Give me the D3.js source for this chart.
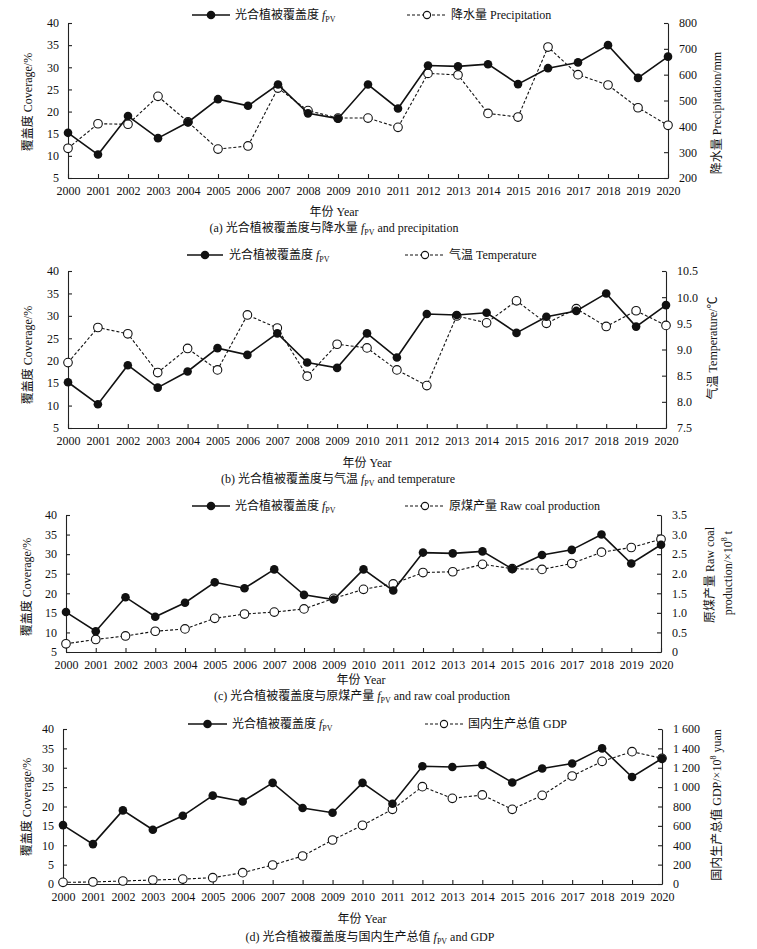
<!DOCTYPE html>
<html><head><meta charset="utf-8">
<script src="https://cdn.jsdelivr.net/npm/d3@7"></script>
<style>
body{margin:0;background:#fff}
text{font-family:"Liberation Serif","Times New Roman","Noto Sans CJK SC",serif;fill:#111}
</style>
</head><body>
<svg id="chart" width="757" height="949"></svg>
<script>
// ---------- data ----------
const years = [2000,2001,2002,2003,2004,2005,2006,2007,2008,2009,2010,2011,2012,2013,2014,2015,2016,2017,2018,2019,2020];
const fpv = [15.2,10.3,19.0,14.0,17.6,22.8,21.3,26.1,19.6,18.4,26.1,20.7,30.4,30.2,30.7,26.2,29.8,31.1,35.0,27.6,32.4];
const precipitation = [315,410,408,516,417,312,324,548,461,432,432,396,605,599,450,436,707,600,560,472,404];
const temperature = [8.75,9.42,9.30,8.56,9.02,8.61,9.66,9.41,8.49,9.10,9.03,8.61,8.31,9.64,9.51,9.93,9.50,9.78,9.44,9.74,9.46];
const coal = [0.21,0.32,0.41,0.53,0.59,0.86,0.97,1.02,1.10,1.37,1.60,1.74,2.03,2.05,2.24,2.13,2.11,2.26,2.55,2.67,2.88];
const gdp = [17,21,31,41,51,65,117,196,289,454,606,771,1005,884,919,771,915,1115,1266,1366,1297];

const coverTicks = [5,10,15,20,25,30,35,40];
const coverTicksD = [0,5,10,15,20,25,30,35,40];
const precipTicks = [200,300,400,500,600,700,800];
const tempTicks = [7.5,8.0,8.5,9.0,9.5,10.0,10.5];
const coalTicks = [0,0.5,1.0,1.5,2.0,2.5,3.0,3.5];
const gdpTicks = [0,200,400,600,800,1000,1200,1400,1600];

const fpvName = "光合植被覆盖度 ";
const panels = [
  {key:"a", sec:precipitation, leftDom:[5,40], leftTicks:coverTicks, rightDom:[200,800], rightTicks:precipTicks,
   fmt:d=>String(d), box:{l:68,r:668,t:23,b:178},
   leg1:{x1:192,x2:230,tx:235,y:15}, leg2:{x1:407,x2:447,tx:451,label:"降水量 Precipitation"},
   leftLabel:{x:28,y:102}, rightLabel:[{x:717,y:113,t:"降水量 Precipitation/mm"}],
   xTitle:{x:334,y:216}, caption:{x:334,y:232,pre:"(a) 光合植被覆盖度与降水量 ",post:" and precipitation"}},
  {key:"b", sec:temperature, leftDom:[5,40], leftTicks:coverTicks, rightDom:[7.5,10.5], rightTicks:tempTicks,
   fmt:d3.format(".1f"), box:{l:68,r:666,t:271,b:428},
   leg1:{x1:187,x2:223,tx:229,y:255}, leg2:{x1:405,x2:445,tx:449,label:"气温 Temperature"},
   leftLabel:{x:28,y:355}, rightLabel:[{x:713,y:348,t:"气温 Temperature/℃"}],
   xTitle:{x:367,y:467}, caption:{x:338,y:483,pre:"(b) 光合植被覆盖度与气温 ",post:" and temperature"}},
  {key:"c", sec:coal, leftDom:[5,40], leftTicks:coverTicks, rightDom:[0,3.5], rightTicks:coalTicks,
   fmt:d=>d===0?"0":d3.format(".1f")(d), box:{l:66,r:661,t:515,b:652},
   leg1:{x1:192,x2:230,tx:235,y:506}, leg2:{x1:405,x2:445,tx:449,label:"原煤产量  Raw coal production"},
   leftLabel:{x:27,y:587}, rightLabel:[{x:710,y:575,t:"原煤产量 Raw coal"},{x:728,y:573,t:"production/×10",sup:"8",tail:" t"}],
   xTitle:{x:361,y:684}, caption:{x:362,y:700,pre:"(c) 光合植被覆盖度与原煤产量 ",post:" and raw coal production"}},
  {key:"d", sec:gdp, leftDom:[0,40], leftTicks:coverTicksD, rightDom:[0,1600], rightTicks:gdpTicks,
   fmt:d=>d3.format(",")(d).replace(/,/g," "), box:{l:63,r:662,t:729,b:884},
   leg1:{x1:188,x2:227,tx:232,y:724}, leg2:{x1:425,x2:463,tx:468,label:"国内生产总值 GDP"},
   leftLabel:{x:27,y:807}, rightLabel:[{x:717,y:805,t:"国内生产总值 GDP/×10",sup:"8",tail:" yuan"}],
   xTitle:{x:362,y:923}, caption:{x:370,y:941,pre:"(d) 光合植被覆盖度与国内生产总值 ",post:" and GDP"}}
];

const svg = d3.select("#chart");
const FS = 12;
const R = 4.3;

function addFpv(textSel){
  textSel.append("tspan").attr("font-style","italic").text("f");
  textSel.append("tspan").attr("font-size",8).attr("dy",3).text("PV");
}

panels.forEach(p=>{
  const g = svg.append("g");
  const {l,r,t,b} = p.box;
  const x = d3.scalePoint().domain(years).range([l,r]);
  const yL = d3.scaleLinear().domain(p.leftDom).range([b,t]);
  const yR = d3.scaleLinear().domain(p.rightDom).range([b,t]);

  // axes
  const ax = g.append("g").attr("transform",`translate(0,${b})`)
    .call(d3.axisBottom(x).tickSize(-4).tickSizeOuter(0).tickPadding(8));
  const al = g.append("g").attr("transform",`translate(${l},0)`)
    .call(d3.axisLeft(yL).tickValues(p.leftTicks).tickSize(-4).tickSizeOuter(0).tickPadding(9).tickFormat(d=>String(d)));
  const ar = g.append("g").attr("transform",`translate(${r},0)`)
    .call(d3.axisRight(yR).tickValues(p.rightTicks).tickSize(-4).tickSizeOuter(0).tickPadding(11).tickFormat(p.fmt));
  [ax,al,ar].forEach(a=>{
    a.selectAll("text").attr("font-size",FS).attr("font-family",'"Liberation Serif",serif').style("fill","#111");
    a.selectAll("line,path").attr("stroke","#222").attr("stroke-width",1.1);
  });
  ax.selectAll("text").attr("dy","0.71em");

  // secondary series (dashed, open)
  const lineSec = d3.line().x((d,i)=>x(years[i])).y(d=>yR(d));
  g.append("path").datum(p.sec).attr("d",lineSec).attr("fill","none")
    .attr("stroke","#111").attr("stroke-width",1.1).attr("stroke-dasharray","3,2");
  g.selectAll(".sec").data(p.sec).join("circle").attr("class","sec")
    .attr("cx",(d,i)=>x(years[i])).attr("cy",d=>yR(d)).attr("r",R)
    .attr("fill","#fff").attr("stroke","#111").attr("stroke-width",1.1);

  // fPV series (solid, filled)
  const lineF = d3.line().x((d,i)=>x(years[i])).y(d=>yL(d));
  g.append("path").datum(fpv).attr("d",lineF).attr("fill","none")
    .attr("stroke","#111").attr("stroke-width",1.6);
  g.selectAll(".fp").data(fpv).join("circle").attr("class","fp")
    .attr("cx",(d,i)=>x(years[i])).attr("cy",d=>yL(d)).attr("r",R).attr("fill","#111");

  // legend
  const L1 = p.leg1, L2 = p.leg2, ly = L1.y;
  g.append("line").attr("x1",L1.x1).attr("x2",L1.x2).attr("y1",ly).attr("y2",ly).attr("stroke","#111").attr("stroke-width",1.6);
  g.append("circle").attr("cx",(L1.x1+L1.x2)/2).attr("cy",ly).attr("r",R).attr("fill","#111");
  const t1 = g.append("text").attr("x",L1.tx).attr("y",ly+4).attr("font-size",FS).text(fpvName);
  addFpv(t1);
  g.append("line").attr("x1",L2.x1).attr("x2",L2.x2).attr("y1",ly).attr("y2",ly).attr("stroke","#111").attr("stroke-width",1.1).attr("stroke-dasharray","3,2");
  g.append("circle").attr("cx",(L2.x1+L2.x2)/2).attr("cy",ly).attr("r",3.6).attr("fill","#fff").attr("stroke","#111").attr("stroke-width",1.1);
  g.append("text").attr("x",L2.tx).attr("y",ly+4).attr("font-size",FS).text(L2.label);

  // axis titles
  g.append("text").attr("transform",`translate(${p.leftLabel.x},${p.leftLabel.y}) rotate(-90)`)
    .attr("text-anchor","middle").attr("dy","0.35em").attr("font-size",FS).text("覆盖度 Coverage/%");
  p.rightLabel.forEach(rl=>{
    const tt = g.append("text").attr("transform",`translate(${rl.x},${rl.y}) rotate(-90)`)
      .attr("text-anchor","middle").attr("dy","0.35em").attr("font-size",FS).text(rl.t);
    if(rl.sup){
      tt.append("tspan").attr("font-size",8).attr("dy",-5).text(rl.sup);
      tt.append("tspan").attr("dy",5).text(rl.tail);
    }
  });
  g.append("text").attr("x",p.xTitle.x).attr("y",p.xTitle.y).attr("text-anchor","middle").attr("font-size",FS).text("年份 Year");
  const cap = g.append("text").attr("x",p.caption.x).attr("y",p.caption.y).attr("text-anchor","middle").attr("font-size",FS);
  cap.append("tspan").text(p.caption.pre);
  addFpv(cap);
  cap.append("tspan").attr("dy",-3).text(p.caption.post);
});
</script>
</body></html>
